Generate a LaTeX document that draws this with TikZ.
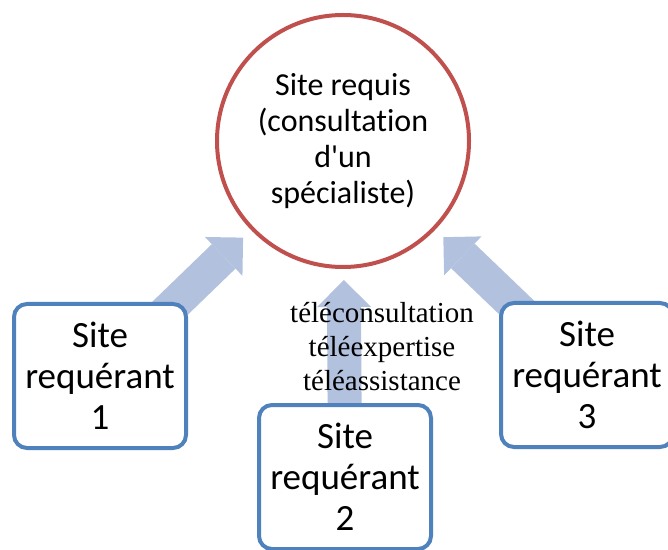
\documentclass[tikz,border=0pt]{standalone}
\usepackage{fontspec}
\setmainfont{Carlito}[Ligatures=NoCommon]
\newfontfamily\modesfont{Liberation Serif}
\usetikzlibrary{arrows.meta,backgrounds,calc}

\definecolor{siteRed}{RGB}{192,80,77}
\definecolor{siteBlue}{RGB}{79,129,189}
\definecolor{flowBlue}{RGB}{177,193,222}

\tikzset{
  requis/.style={circle, draw=siteRed, line width=4pt, fill=white,
    minimum size=252pt, inner sep=0pt, align=center,
    font=\fontsize{32}{36}\selectfont},
  requerant/.style={draw=siteBlue, line width=4pt, fill=white,
    rounded corners=13pt, minimum width=172pt, minimum height=144pt,
    inner sep=2pt, align=center, font=\fontsize{37}{41}\selectfont},
  flow/.style={draw=flowBlue, line width=34pt,
    -{Triangle[length=27pt,width=54pt,line width=0pt]}}
}

\begin{document}
\begin{tikzpicture}[x=1pt,y=1pt]
    \useasboundingbox (0,0) rectangle (668,549);

    \node[requis] (req) at (343,408) {Site requis\\(consultation\\d\textquotesingle un\\spécialiste)};
    \node[requerant] (site1) at (100,173) {Site\\requérant\\1};
    \node[requerant] (site2) at (345,72) {Site\\requérant\\2};
    \node[requerant] (site3) at (587,174) {Site\\requérant\\3};

    % liens vers le site requis
    \begin{scope}[on background layer]
    \draw[flow] (site1.center) -- ($(req.center)!139pt!(site1.center)$);
    \draw[flow] (site2.center) -- ($(req.center)!139pt!(site2.center)$);
    \draw[flow] (site3.center) -- ($(req.center)!139pt!(site3.center)$);
    \end{scope}

    \node[align=center, font=\modesfont\fontsize{29}{34}\selectfont] (modes) at (382,202)
        {téléconsultation\\téléexpertise\\téléassistance};
\end{tikzpicture}
\end{document}
